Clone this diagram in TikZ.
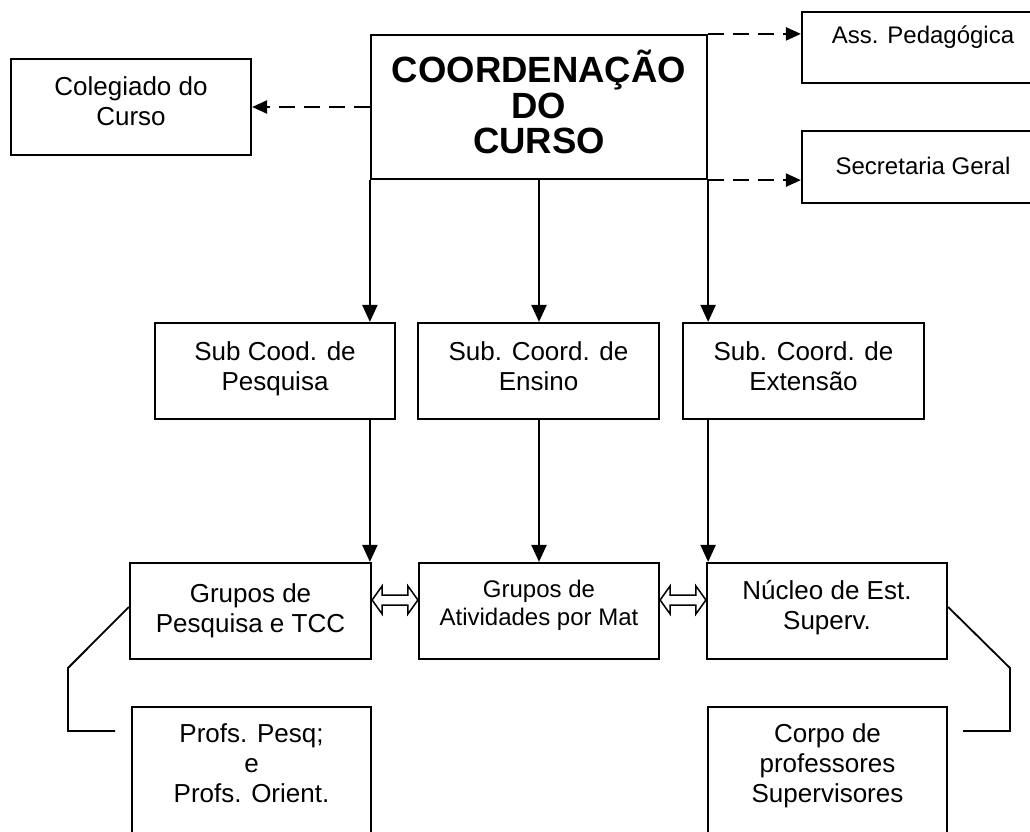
\documentclass[tikz,border=0pt]{standalone}
\usepackage{fontspec}
\setmainfont{Liberation Sans}
\usetikzlibrary{arrows.meta,calc}
\tikzset{
  box/.style={draw, line width=2.2pt, inner sep=0pt, minimum width=240pt, minimum height=96pt},
  txt/.style={inner sep=0pt, align=center, font=\fontsize{26}{30}\selectfont},
  smalltxt/.style={inner sep=0pt, align=center, font=\fontsize{24}{28.5}\selectfont},
  titletxt/.style={inner sep=0pt, align=center, font=\fontsize{36.5}{35.5}\selectfont\bfseries},
  solidarrow/.style={line width=2.2pt, -{Triangle[length=17pt,width=15pt]}},
  dasharrow/.style={line width=2.2pt, dash pattern=on 16pt off 9pt, -{Triangle[length=15pt,width=13pt]}},
  bracket/.style={line width=1.8pt},
  dbl/.style={line width=1.5pt, fill=white, line join=miter},
}
\begin{document}
\begin{tikzpicture}[x=1pt,y=-1pt]
\useasboundingbox (0,0) rectangle (1030,832);
\fill[white] (0,0) rectangle (1030,832);
\clip (0,0) rectangle (1030,832);
% boxes
\node[box, minimum width=336pt, minimum height=144pt] (coord) at (539,107) {};
\node[box] (col) at (131,107) {};
\node[box, minimum width=238pt, minimum height=71pt] (ass) at (921,47.5) {};
\node[box, minimum width=238pt, minimum height=72pt] (sec) at (921,167) {};
\node[box] (s1) at (275,371) {};
\node[box, minimum width=241pt] (s2) at (538.5,371) {};
\node[box, minimum width=241pt] (s3) at (803.5,371) {};
\node[box, minimum width=241pt] (g1) at (250.5,611) {};
\node[box] (g2) at (539,611) {};
\node[box] (g3) at (827,611) {};
\node[box, minimum width=239pt, minimum height=143pt] (p1) at (251.5,778.5) {};
\node[box, minimum width=239pt, minimum height=143pt] (p2) at (827.5,778.5) {};
% texts
\node[titletxt, anchor=south] (coordT) at (coord |- 0,154.4) {COORDENAÇÃO\\DO\\CURSO};
\node[txt, anchor=north] (colT) at (col |- 0,76) {Colegiado do\\Curso};
\node[smalltxt, anchor=north] (assT) at (923,26) {Ass. Pedagógica};
\node[smalltxt, anchor=north] (secT) at (923,156.5) {Secretaria Geral};
\node[txt, anchor=north] (s1T) at (s1 |- 0,341) {Sub Cood. de\\Pesquisa};
\node[txt, anchor=north] (s2T) at (s2 |- 0,341) {Sub. Coord. de\\Ensino};
\node[txt, anchor=north] (s3T) at (s3 |- 0,341) {Sub. Coord. de\\Extensão};
\node[txt, anchor=north] (g1T) at (g1 |- 0,583) {Grupos de\\Pesquisa e TCC};
\node[smalltxt, anchor=north] (g2T) at (g2 |- 0,579.5) {Grupos de\\Atividades por Mat};
\node[txt, anchor=south] (g3T) at (g3 |- 0,635.5) {Núcleo de Est.\\Superv.};
\node[txt, anchor=north] (p1T) at (p1 |- 0,723) {Profs. Pesq;\\e\\Profs. Orient.};
\node[txt, anchor=north] (p2T) at (p2 |- 0,723) {Corpo de\\professores\\Supervisores};
% solid arrows
\draw[solidarrow] (coord.south west) -- (coord.south west |- s1.north);
\draw[solidarrow] (coord.south) -- (coord.south |- s2.north);
\draw[solidarrow] (coord.south east) -- (coord.south east |- s3.north);
\draw[solidarrow] (coord.south west |- s1.south) -- (coord.south west |- g1.north);
\draw[solidarrow] (coord.south |- s2.south) -- (coord.south |- g2.north);
\draw[solidarrow] (coord.south east |- s3.south) -- (coord.south east |- g3.north);
% dashed arrows
\draw[dasharrow] (coord.west) -- (col.east);
\draw[dasharrow] (coord.north east) -- (coord.north east -| ass.west);
\draw[dasharrow] (coord.south east) -- (coord.south east -| sec.west);
% brackets
\coordinate (lb1) at (68,668);
\coordinate (lb2) at (68,731);
\coordinate (lb3) at (115,731);
\draw[bracket] ([yshift=4pt]g1.west) -- (lb1) -- (lb2) -- (lb3);
\coordinate (rb1) at (1010,668);
\coordinate (rb2) at (1010,731);
\coordinate (rb3) at (963,731);
\draw[bracket] ([yshift=4pt]g3.east) -- (rb1) -- (rb2) -- (rb3);
% double arrows
\path ([yshift=11pt]g1.east) coordinate (da1) ([yshift=11pt]g2.west) coordinate (da2);
\draw[dbl] (da1) -- ++(10,-14) -- ++(0,9) -- ($(da2)+(-10,-5)$) -- ++(0,-9) -- (da2)
  -- ++(-10,14) -- ++(0,-9) -- ($(da1)+(10,5)$) -- ++(0,9) -- cycle;
\path ([yshift=11pt]g2.east) coordinate (db1) ([yshift=11pt]g3.west) coordinate (db2);
\draw[dbl] (db1) -- ++(10,-14) -- ++(0,9) -- ($(db2)+(-10,-5)$) -- ++(0,-9) -- (db2)
  -- ++(-10,14) -- ++(0,-9) -- ($(db1)+(10,5)$) -- ++(0,9) -- cycle;
\end{tikzpicture}
\end{document}
